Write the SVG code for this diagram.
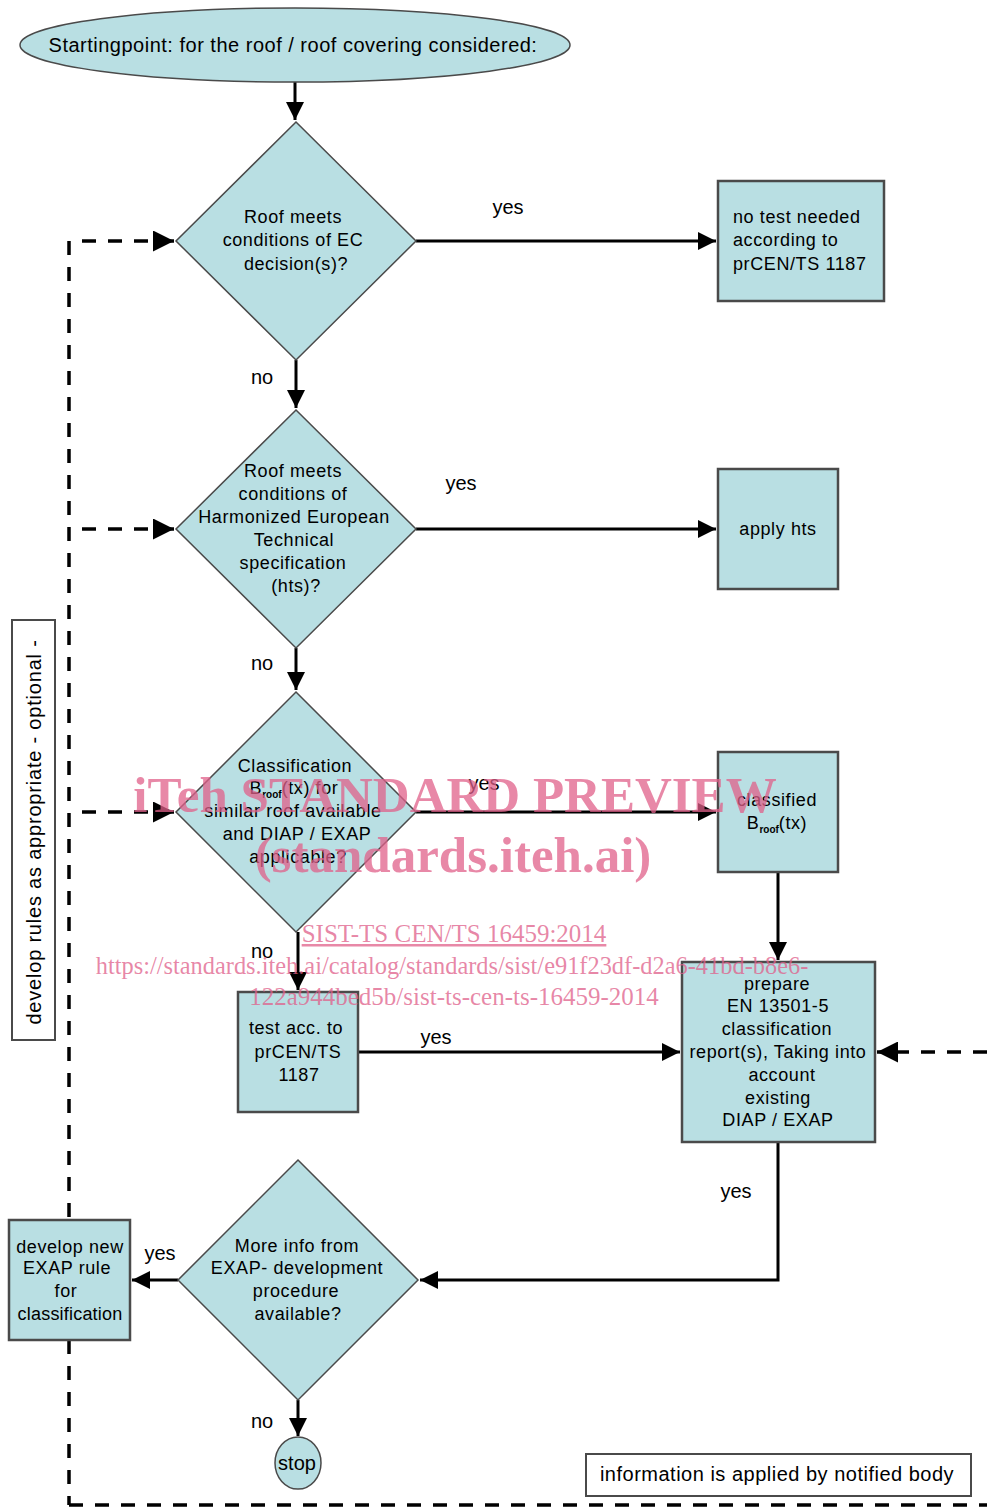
<svg xmlns="http://www.w3.org/2000/svg" width="987" height="1508" viewBox="0 0 987 1508">
<defs>
<style>
.n{fill:#b9dfe3;stroke:#4a4a4a;stroke-width:1.5}
.b{fill:#b9dfe3;stroke:#4a4a4a;stroke-width:2.5}
.t{font-family:"Liberation Sans",Arial,sans-serif;font-size:18px;letter-spacing:0.6px;fill:#000;text-anchor:middle}
.s{text-anchor:start}
.big{font-size:20px;letter-spacing:0.5px}
.sub{font-size:10px;font-weight:bold;letter-spacing:0}
.l{font-family:"Liberation Sans",Arial,sans-serif;font-size:20px;fill:#000;text-anchor:middle}
.c{fill:none;stroke:#000;stroke-width:3}
.d{fill:none;stroke:#000;stroke-width:3.5;stroke-dasharray:14,12}
.w{font-family:"Liberation Serif","Times New Roman",serif;fill:#e0608a;fill-opacity:0.75;text-anchor:middle}
</style>
<marker id="a" viewBox="0 0 10 10" refX="10" refY="5" markerWidth="6" markerHeight="6" orient="auto" markerUnits="strokeWidth">
<path d="M0,0 L10,5 L0,10 z" fill="#000"/>
</marker>
</defs>
<rect width="987" height="1508" fill="#fff"/>

<g id="connectors">
<line class="c" x1="295" y1="82" x2="295" y2="120" marker-end="url(#a)"/>
<line class="c" x1="416" y1="241" x2="716" y2="241" marker-end="url(#a)"/>
<line class="c" x1="296" y1="360" x2="296" y2="408" marker-end="url(#a)"/>
<line class="c" x1="416" y1="529" x2="716" y2="529" marker-end="url(#a)"/>
<line class="c" x1="296" y1="648" x2="296" y2="690" marker-end="url(#a)"/>
<line class="c" x1="416" y1="812" x2="716" y2="812" marker-end="url(#a)"/>
<line class="c" x1="778" y1="872" x2="778" y2="960" marker-end="url(#a)"/>
<line class="c" x1="298" y1="932" x2="298" y2="990" marker-end="url(#a)"/>
<line class="c" x1="358" y1="1052" x2="680" y2="1052" marker-end="url(#a)"/>
<polyline class="c" points="778,1142 778,1280 420,1280" marker-end="url(#a)"/>
<line class="c" x1="178" y1="1280" x2="132" y2="1280" marker-end="url(#a)"/>
<line class="c" x1="298" y1="1400" x2="298" y2="1436" marker-end="url(#a)"/>
<line class="d" x1="69" y1="241" x2="69" y2="1220"/>
<line class="d" x1="69" y1="1340" x2="69" y2="1505"/>
<line class="d" x1="69" y1="1505" x2="987" y2="1505"/>
<line class="d" x1="82" y1="241" x2="174" y2="241" marker-end="url(#a)"/>
<line class="d" x1="82" y1="529" x2="174" y2="529" marker-end="url(#a)"/>
<line class="d" x1="82" y1="812" x2="174" y2="812" marker-end="url(#a)"/>
<line class="d" x1="987" y1="1052" x2="877" y2="1052" marker-end="url(#a)"/>
<text class="l" x="508" y="214">yes</text>
<text class="l" x="262" y="384">no</text>
<text class="l" x="461" y="490">yes</text>
<text class="l" x="262" y="670">no</text>
<text class="l" x="484" y="790">yes</text>
<text class="l" x="262" y="958">no</text>
<text class="l" x="436" y="1044">yes</text>
<text class="l" x="736" y="1198">yes</text>
<text class="l" x="160" y="1260">yes</text>
<text class="l" x="262" y="1428">no</text>
</g>

<g id="start">
<ellipse class="n" cx="295" cy="45" rx="275" ry="37"/>
<text class="t big" x="293" y="52">Startingpoint:  for the roof / roof covering considered:</text>
</g>

<g id="d1">
<polygon class="n" points="296,122 416,241 296,360 176,241"/>
<text class="t" x="293" y="223">Roof meets</text>
<text class="t" x="293" y="246">conditions of EC</text>
<text class="t" x="296" y="270">decision(s)?</text>
</g>

<g id="box1">
<rect class="b" x="718" y="181" width="166" height="120"/>
<text class="t s" x="733" y="223">no test needed</text>
<text class="t s" x="733" y="246">according to</text>
<text class="t s" x="733" y="270">prCEN/TS 1187</text>
</g>

<g id="d2">
<polygon class="n" points="296,410 416,529 296,648 176,529"/>
<text class="t" x="293" y="477">Roof meets</text>
<text class="t" x="293" y="500">conditions of</text>
<text class="t" x="294" y="523">Harmonized European</text>
<text class="t" x="294" y="546">Technical</text>
<text class="t" x="293" y="569">specification</text>
<text class="t" x="296" y="592">(hts)?</text>
</g>

<g id="box2">
<rect class="b" x="718" y="469" width="120" height="120"/>
<text class="t" x="778" y="535">apply hts</text>
</g>

<g id="d3">
<polygon class="n" points="296,692 416,812 296,932 176,812"/>
<text class="t" x="295" y="772">Classification</text>
<text class="t" x="294" y="794">B<tspan class="sub" dy="4">roof</tspan><tspan dy="-4">(tx) for</tspan></text>
<text class="t" x="293" y="817">similar roof available</text>
<text class="t" x="297" y="840">and DIAP / EXAP</text>
<text class="t" x="298" y="863">applicable?</text>
</g>

<g id="box3">
<rect class="b" x="718" y="752" width="120" height="120"/>
<text class="t" x="777" y="806">classified</text>
<text class="t" x="777" y="829">B<tspan class="sub" dy="4">roof</tspan><tspan dy="-4">(tx)</tspan></text>
</g>

<g id="box4">
<rect class="b" x="238" y="992" width="120" height="120"/>
<text class="t" x="296" y="1034">test acc. to</text>
<text class="t" x="298" y="1058">prCEN/TS</text>
<text class="t" x="299" y="1081">1187</text>
</g>

<g id="box5">
<rect class="b" x="682" y="962" width="193" height="180"/>
<text class="t" x="777" y="990">prepare</text>
<text class="t" x="778" y="1012">EN 13501-5</text>
<text class="t" x="777" y="1035">classification</text>
<text class="t" x="778" y="1058">report(s), Taking into</text>
<text class="t" x="782" y="1081">account</text>
<text class="t" x="778" y="1104">existing</text>
<text class="t" x="778" y="1126">DIAP / EXAP</text>
</g>

<g id="d4">
<polygon class="n" points="298,1160 418,1280 298,1400 178,1280"/>
<text class="t" x="297" y="1252">More info from</text>
<text class="t" x="297" y="1274">EXAP- development</text>
<text class="t" x="296" y="1297">procedure</text>
<text class="t" x="298" y="1320">available?</text>
</g>

<g id="box6">
<rect class="b" x="9" y="1220" width="121" height="120"/>
<text class="t" x="70" y="1253">develop new</text>
<text class="t" x="67" y="1274">EXAP rule</text>
<text class="t" x="66" y="1297">for</text>
<text class="t" x="70" y="1320" style="letter-spacing:0.2px">classification</text>
</g>

<g id="stop">
<ellipse class="n" cx="298" cy="1463" rx="23" ry="26"/>
<text class="t" x="297" y="1470" style="font-size:20px;letter-spacing:0">stop</text>
</g>

<g id="note1">
<rect x="12" y="620" width="43" height="420" fill="#fff" stroke="#4a4a4a" stroke-width="2"/>
<text class="t" x="0" y="0" style="font-size:20px;letter-spacing:0.8px" transform="translate(41,832) rotate(-90)">develop rules as appropriate  -  optional -</text>
</g>

<g id="note2">
<rect x="586" y="1454" width="385" height="42" fill="#fff" stroke="#4a4a4a" stroke-width="2"/>
<text class="t big" x="777" y="1481">information is applied by notified body</text>
</g>

<g id="watermark">
<text class="w" x="455" y="812" font-size="51" font-weight="bold">iTeh STANDARD PREVIEW</text>
<text class="w" x="453" y="872" font-size="51" font-weight="bold">(standards.iteh.ai)</text>
<text class="w" x="454" y="942" font-size="25" text-decoration="underline">SIST-TS CEN/TS 16459:2014</text>
<text class="w" x="452" y="974" font-size="24.4">https://standards.iteh.ai/catalog/standards/sist/e91f23df-d2a6-41bd-b8e6-</text>
<text class="w" x="454" y="1005" font-size="25">122a944bed5b/sist-ts-cen-ts-16459-2014</text>
</g>
</svg>
